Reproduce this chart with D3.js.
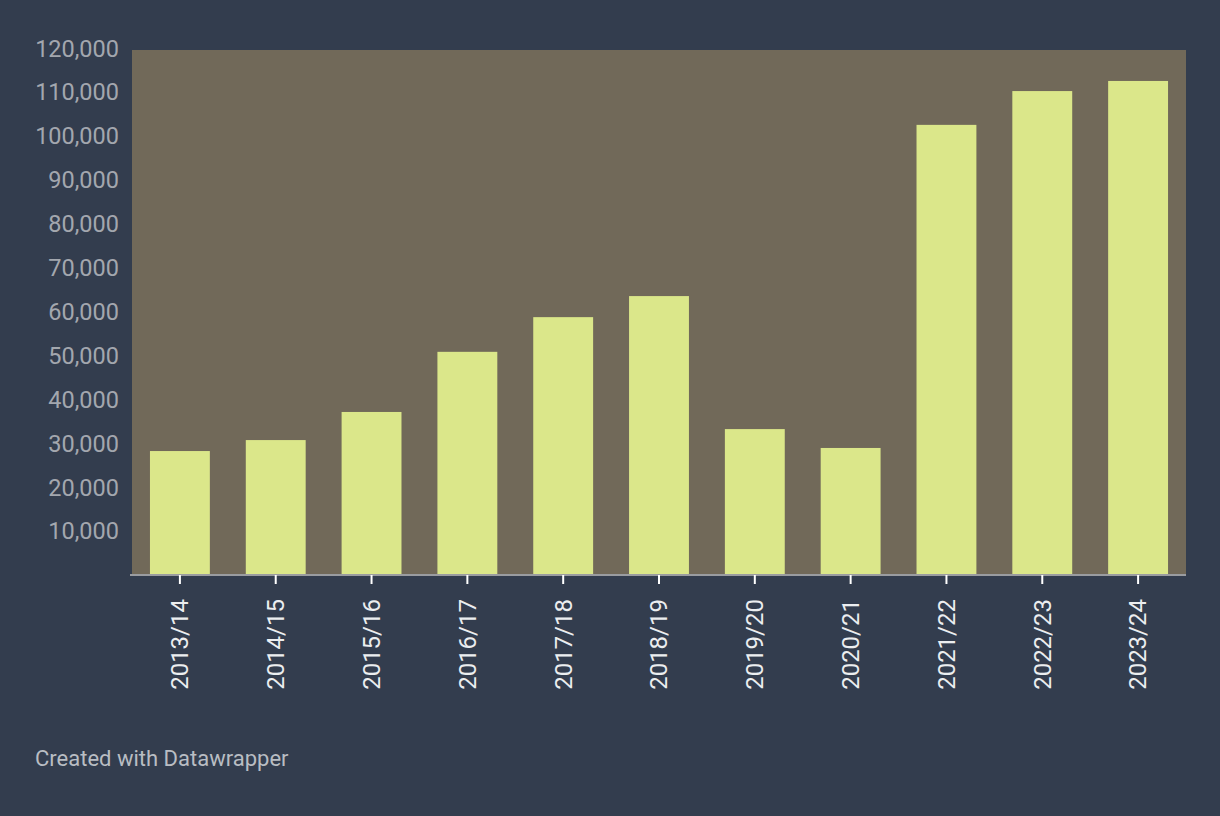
<!DOCTYPE html>
<html>
<head>
<meta charset="utf-8">
<script src="https://cdn.jsdelivr.net/npm/d3@7"></script>
<style>
  html, body { margin: 0; padding: 0; background: #333d4e; }
  svg { display: block; font-family: Roboto, "Noto Sans", sans-serif; }
</style>
</head>
<body>
<svg id="chart" width="1220" height="816"></svg>
<script>
const categories = ["2013/14","2014/15","2015/16","2016/17","2017/18","2018/19","2019/20","2020/21","2021/22","2022/23","2023/24"];
const values = [28100, 30600, 37000, 50700, 58600, 63400, 33100, 28800, 102400, 110100, 112400];
const yTicks = [10000,20000,30000,40000,50000,60000,70000,80000,90000,100000,110000,120000];
const footer = "Created with Datawrapper";

const svg = d3.select("#chart");
const W = 1220, H = 816;
const plot = { left: 132, right: 1186, top: 50, bottom: 574 };

svg.append("rect").attr("width", W).attr("height", H).attr("fill", "#333d4e");

const x = d3.scaleBand().domain(categories).range([plot.left, plot.right])
  .paddingInner(0.375).paddingOuter(0.1875);
const y = d3.scaleLinear().domain([0, 120000]).range([574.4, 47.6]);

svg.append("rect")
  .attr("x", plot.left).attr("y", plot.top)
  .attr("width", plot.right - plot.left).attr("height", plot.bottom - plot.top)
  .attr("fill", "#716959");

svg.append("g").selectAll("rect").data(categories).join("rect")
  .attr("x", d => x(d))
  .attr("width", x.bandwidth())
  .attr("y", (d, i) => y(values[i]))
  .attr("height", (d, i) => plot.bottom - y(values[i]))
  .attr("fill", "#dbe78a");

// y axis labels
const fmt = d3.format(",");
const yAxis = d3.axisLeft(y).tickValues(yTicks).tickFormat(fmt).tickSize(0).tickPadding(0);
const gy = svg.append("g").attr("transform", `translate(${plot.left - 13},0)`).call(yAxis);
gy.select(".domain").remove();
gy.selectAll("text")
  .attr("fill", "#a3a7ae")
  .attr("font-size", "23.5px")
  .attr("font-family", "Roboto, sans-serif")
  .attr("dy", "0.36em");

// baseline
svg.append("line")
  .attr("x1", plot.left - 2).attr("x2", plot.right)
  .attr("y1", plot.bottom + 1).attr("y2", plot.bottom + 1)
  .attr("stroke", "#9a9ca0").attr("stroke-width", 2);

// x axis
const xAxis = d3.axisBottom(x).tickSize(9).tickPadding(12);
const gx = svg.append("g").attr("transform", `translate(0,${plot.bottom + 1})`).call(xAxis);
gx.select(".domain").remove();
gx.selectAll(".tick line").attr("stroke", "#ffffff").attr("stroke-width", 2);
gx.selectAll("text")
  .attr("fill", "#eceef0")
  .attr("font-size", "24px")
  .attr("font-family", "Roboto, sans-serif")
  .attr("transform", "rotate(-90)")
  .attr("text-anchor", "end")
  .attr("x", -24)
  .attr("y", 0)
  .attr("dy", "0.35em");

svg.append("text")
  .attr("x", 35).attr("y", 766)
  .attr("fill", "#b9bdc3")
  .attr("font-size", "22px")
  .attr("font-family", "Roboto, sans-serif")
  .text(footer);
</script>
</body>
</html>
